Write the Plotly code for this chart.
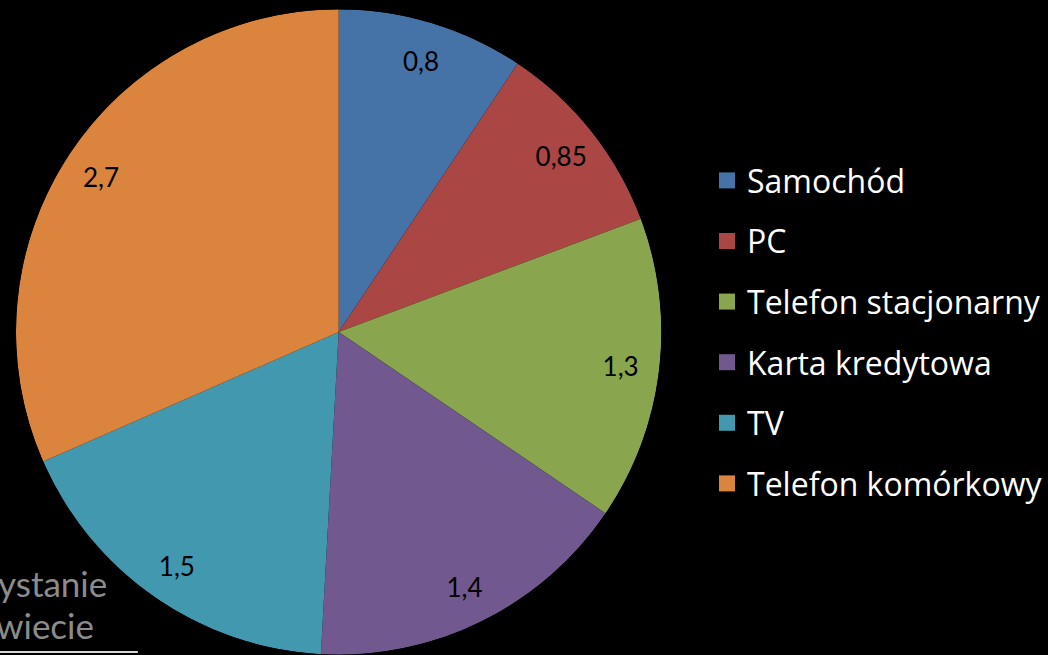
import plotly.graph_objects as go

categories = ["Samochód", "PC", "Telefon stacjonarny", "Karta kredytowa", "TV", "Telefon komórkowy"]
values = [0.8, 0.85, 1.3, 1.4, 1.5, 2.7]
value_labels = ["0,8", "0,85", "1,3", "1,4", "1,5", "2,7"]
colors = ["#4572A7", "#AA4643", "#89A54E", "#71588F", "#4198AF", "#DB843D"]

total = sum(values)
widths = [v / total * 360 for v in values]
mids = []
acc = 0
for w in widths:
    mids.append(acc + w / 2)
    acc += w

W, H = 1048, 655
# pie geometry (pixels)
CX, CY, R = 339, 332, 323
# label layer: same centre shifted down a little for text baseline, smaller box to fit the page
DY, R2 = 4, 318
LABEL_FRAC = 0.88

fig = go.Figure()
for cat, th, w, c in zip(categories, mids, widths, colors):
    fig.add_trace(go.Barpolar(
        r=[1], theta=[th], width=[w], name=cat, legendgroup=cat,
        marker=dict(color=c, line=dict(width=0)), showlegend=False,
        hoverinfo="skip"))

fig.add_trace(go.Scatterpolar(
    r=[LABEL_FRAC * R / R2] * len(values), theta=mids, mode="text", text=value_labels,
    textfont=dict(family="Lato", size=26, color="black"), showlegend=False,
    hoverinfo="skip", subplot="polar2"))

for cat, c in zip(categories, colors):
    fig.add_trace(go.Scatterpolar(
        r=[None], theta=[None], mode="markers", name=cat, legendgroup=cat,
        marker=dict(symbol="square", size=16, color=c), showlegend=True))

polar_common = dict(
    bgcolor="rgba(0,0,0,0)",
    radialaxis=dict(visible=False, range=[0, 1]),
    angularaxis=dict(visible=False, rotation=90, direction="clockwise"),
)

fig.update_layout(
    width=W, height=H,
    paper_bgcolor="black", plot_bgcolor="black",
    margin=dict(l=0, r=0, t=0, b=0),
    polar=dict(
        domain=dict(x=[(CX - R) / W, (CX + R) / W], y=[(H - CY - R) / H, (H - CY + R) / H]),
        bargap=0, **polar_common,
    ),
    polar2=dict(
        domain=dict(x=[(CX - R2) / W, (CX + R2) / W],
                    y=[(H - CY - DY - R2) / H, (H - CY - DY + R2) / H]),
        **polar_common,
    ),
    legend=dict(
        x=708 / W, xanchor="left", y=0.493, yanchor="middle",
        font=dict(family="Open Sans", size=32, color="white"),
        traceorder="grouped", tracegroupgap=16,
        bgcolor="rgba(0,0,0,0)", itemsizing="trace",
    ),
    annotations=[
        dict(text="ystanie", x=-4 / W, y=(H - 583) / H, xref="paper", yref="paper",
             xanchor="left", yanchor="middle", showarrow=False,
             font=dict(family="Lato", size=35, color="#8c8c8c")),
        dict(text="wiecie", x=-6 / W, y=(H - 625) / H, xref="paper", yref="paper",
             xanchor="left", yanchor="middle", showarrow=False,
             font=dict(family="Lato", size=35, color="#8c8c8c")),
    ],
    shapes=[
        dict(type="line", xref="paper", yref="paper", x0=0, x1=138 / W,
             y0=(H - 652) / H, y1=(H - 652) / H, line=dict(color="#d9d9d9", width=2), layer="below"),
    ],
)

fig.write_html(
    "out.html",
    config={"displayModeBar": False},
    post_script="document.body.style.margin='0';document.body.style.overflow='hidden';document.body.style.background='black';",
)
